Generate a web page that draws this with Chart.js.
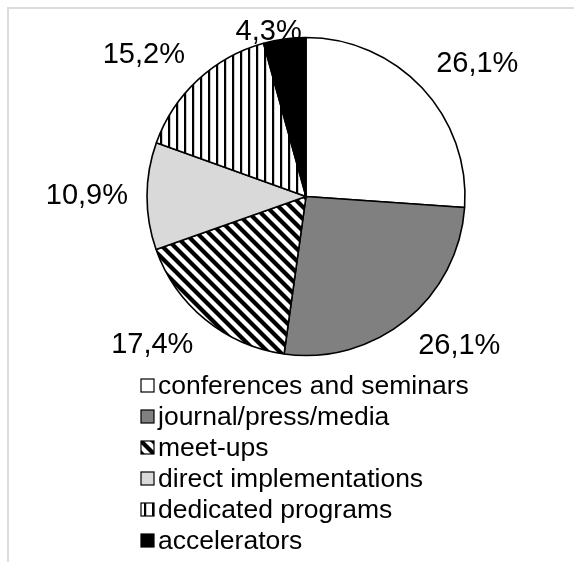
<!DOCTYPE html>
<html>
<head>
<meta charset="utf-8">
<script src="https://cdn.jsdelivr.net/npm/chart.js@4/dist/chart.umd.min.js"></script>
<style>
  html, body { margin: 0; padding: 0; background: #fff; }
  #wrap { position: relative; width: 574px; height: 562px; }
  #frame {
    position: absolute; left: 7px; top: 7px; right: 0; bottom: 0;
    border-top: 2px solid #dcdcdc; border-left: 2px solid #dcdcdc;
  }
  canvas { position: absolute; left: 0; top: 0; }
</style>
</head>
<body>
<div id="wrap">
  <div id="frame"></div>
  <canvas id="chart" width="574" height="562"></canvas>
</div>
<script>
// ---------------------------------------------------------------------------
// Data
// ---------------------------------------------------------------------------
const categories = [
  "conferences and seminars",
  "journal/press/media",
  "meet-ups",
  "direct implementations",
  "dedicated programs",
  "accelerators",
];
const shares = [26.1, 26.1, 17.4, 10.9, 15.2, 4.3];
const fillKinds = ["white", "gray", "diagonal", "lightgray", "vertical", "black"];

const FONT = '"Liberation Sans", Arial, sans-serif';

// ---------------------------------------------------------------------------
// Fill patterns (Excel-like hatch fills)
// ---------------------------------------------------------------------------
function makeTile(size, draw) {
  const c = document.createElement("canvas");
  c.width = size;
  c.height = size;
  const g = c.getContext("2d");
  g.fillStyle = "#fff";
  g.fillRect(0, 0, size, size);
  draw(g, size);
  return document.getElementById("chart").getContext("2d").createPattern(c, "repeat");
}

function fillFor(kind) {
  switch (kind) {
    case "white": return "#ffffff";
    case "gray": return "#808080";
    case "lightgray": return "#d9d9d9";
    case "black": return "#000000";
    case "diagonal":
      return makeTile(12, (g, n) => {
        g.strokeStyle = "#000";
        g.lineWidth = 4.2;
        for (let k = -1; k <= 1; k++) {
          g.beginPath();
          g.moveTo(-3, -3 + n * k);
          g.lineTo(n + 3, n + 3 + n * k);
          g.stroke();
        }
      });
    case "vertical":
      return makeTile(8, (g, n) => {
        g.fillStyle = "#000";
        g.fillRect(0, 0, 2.2, n);
      });
  }
  return "#fff";
}

const fills = fillKinds.map(fillFor);

function fmtPct(v) {
  return v.toFixed(1).replace(".", ",") + "%";
}

// ---------------------------------------------------------------------------
// Plugins: outside-end labels and a one-per-row legend
// ---------------------------------------------------------------------------
const outsideLabels = {
  id: "outsideLabels",
  afterDatasetsDraw(chart) {
    const ctx = chart.ctx;
    const meta = chart.getDatasetMeta(0);
    const fontSize = 29;
    const boxH = 22;
    const gap = 19;
    const s = (v) => Math.max(-1, Math.min(1, v * 3));
    ctx.save();
    ctx.font = fontSize + "px " + FONT;
    ctx.fillStyle = "#000";
    ctx.textAlign = "center";
    ctx.textBaseline = "middle";
    meta.data.forEach((arc, i) => {
      const p = arc.getProps(["x", "y", "startAngle", "endAngle", "outerRadius"], true);
      const mid = (p.startAngle + p.endAngle) / 2;
      const ux = Math.cos(mid);
      const uy = Math.sin(mid);
      const text = fmtPct(shares[i]);
      const w = ctx.measureText(text).width;
      const cx = p.x + (p.outerRadius + gap) * ux + (w / 2) * s(ux);
      let cy = p.y + (p.outerRadius + gap) * uy + (boxH / 2) * s(uy);
      // keep labels inside the plot area
      cy = Math.max(cy, 21 + boxH / 2);
      ctx.fillText(text, cx, cy);
    });
    ctx.restore();
  },
};

const rowLegend = {
  id: "rowLegend",
  afterDraw(chart) {
    const ctx = chart.ctx;
    const ds = chart.data.datasets[0];
    const left = 141;
    const top = 385.5;
    const step = 31;
    const box = 13;
    ctx.save();
    ctx.font = "26.5px " + FONT;
    ctx.textBaseline = "middle";
    ctx.textAlign = "left";
    chart.data.labels.forEach((label, i) => {
      const cy = top + i * step;
      ctx.fillStyle = ds.backgroundColor[i];
      ctx.fillRect(left, cy - box / 2, box, box);
      ctx.strokeStyle = "#000";
      ctx.lineWidth = 1.2;
      ctx.strokeRect(left, cy - box / 2, box, box);
      ctx.fillStyle = "#000";
      ctx.fillText(label, left + box + 4, cy + 1);
    });
    ctx.restore();
  },
};

// ---------------------------------------------------------------------------
// Chart
// ---------------------------------------------------------------------------
new Chart(document.getElementById("chart"), {
  type: "pie",
  data: {
    labels: categories,
    datasets: [{
      data: shares,
      backgroundColor: fills,
      borderColor: "#000",
      borderWidth: 1.6,
      hoverOffset: 0,
    }],
  },
  options: {
    responsive: false,
    animation: false,
    radius: 159,
    layout: { padding: { left: 120, right: 82, top: 20, bottom: 189 } },
    plugins: {
      legend: { display: false },
      tooltip: { enabled: false },
    },
  },
  plugins: [outsideLabels, rowLegend],
});
</script>
</body>
</html>
